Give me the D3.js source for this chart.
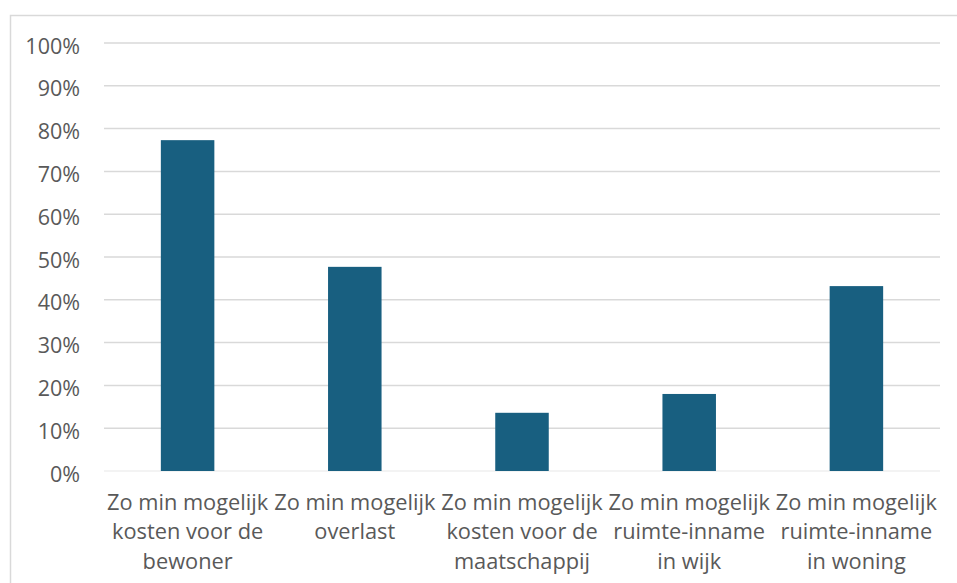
<!DOCTYPE html>
<html>
<head>
<meta charset="utf-8">
<script src="https://cdn.jsdelivr.net/npm/d3@7"></script>
<style>
  body { margin: 0; background: #fff; }
  svg text { font-family: "Open Sans", "Liberation Sans", sans-serif; fill: #595959; }
</style>
</head>
<body>
<svg id="chart" width="957" height="583"></svg>
<script>
// categorieën en waarden (aandeel)
const categories = [
    ["Zo min mogelijk", "kosten voor de", "bewoner"],
    ["Zo min mogelijk", "overlast"],
    ["Zo min mogelijk", "kosten voor de", "maatschappij"],
    ["Zo min mogelijk", "ruimte-inname", "in wijk"],
    ["Zo min mogelijk", "ruimte-inname", "in woning"]
];
const values = [0.773, 0.477, 0.136, 0.180, 0.432];
const yTicks = [0, 0.1, 0.2, 0.3, 0.4, 0.5, 0.6, 0.7, 0.8, 0.9, 1.0];

const svg = d3.select("#chart");
const margin = { left: 104, right: 17, top: 43, bottom: 112 };
const width = 957, height = 583;

// kader
svg.append("rect")
    .attr("x", 10.5).attr("y", 15.5)
    .attr("width", 960).attr("height", 600)
    .attr("fill", "none")
    .attr("stroke", "#d9d9d9")
    .attr("stroke-width", 1.5);

const x = d3.scaleBand()
    .domain(d3.range(categories.length))
    .range([margin.left, width - margin.right])
    .paddingInner(0.68)
    .paddingOuter(0.34);

const y = d3.scaleLinear()
    .domain([0, 1])
    .range([height - margin.bottom, margin.top]);

// rasterlijnen
svg.append("g")
    .selectAll("line")
    .data(yTicks)
    .join("line")
    .attr("x1", margin.left)
    .attr("x2", width - margin.right)
    .attr("y1", d => y(d))
    .attr("y2", d => y(d))
    .attr("stroke", d => d === 0 ? "#efefef" : "#d9d9d9")
    .attr("stroke-width", 1.5);

// y-as labels
svg.append("g")
    .selectAll("text")
    .data(yTicks)
    .join("text")
    .attr("x", 80)
    .attr("y", d => y(d) + 3)
    .attr("dy", "0.35em")
    .attr("text-anchor", "end")
    .style("font-size", "21.5px")
    .text(d => d3.format(".0%")(d));

// staven
svg.append("g")
    .selectAll("rect")
    .data(values)
    .join("rect")
    .attr("x", (d, i) => x(i))
    .attr("y", d => y(d))
    .attr("width", x.bandwidth())
    .attr("height", d => y(0) - y(d))
    .attr("fill", "#185f80");

// categorie labels
const labels = svg.append("g")
    .selectAll("text")
    .data(categories)
    .join("text")
    .attr("text-anchor", "middle")
    .attr("transform", (d, i) => `translate(${x(i) + x.bandwidth() / 2},${y(0) + 31})`)
    .style("font-size", "21.8px");

labels.selectAll("tspan")
    .data(d => d)
    .join("tspan")
    .attr("x", 0)
    .attr("y", (d, i) => i * 29.7)
    .attr("dy", "0.35em")
    .text(d => d);
</script>
</body>
</html>
